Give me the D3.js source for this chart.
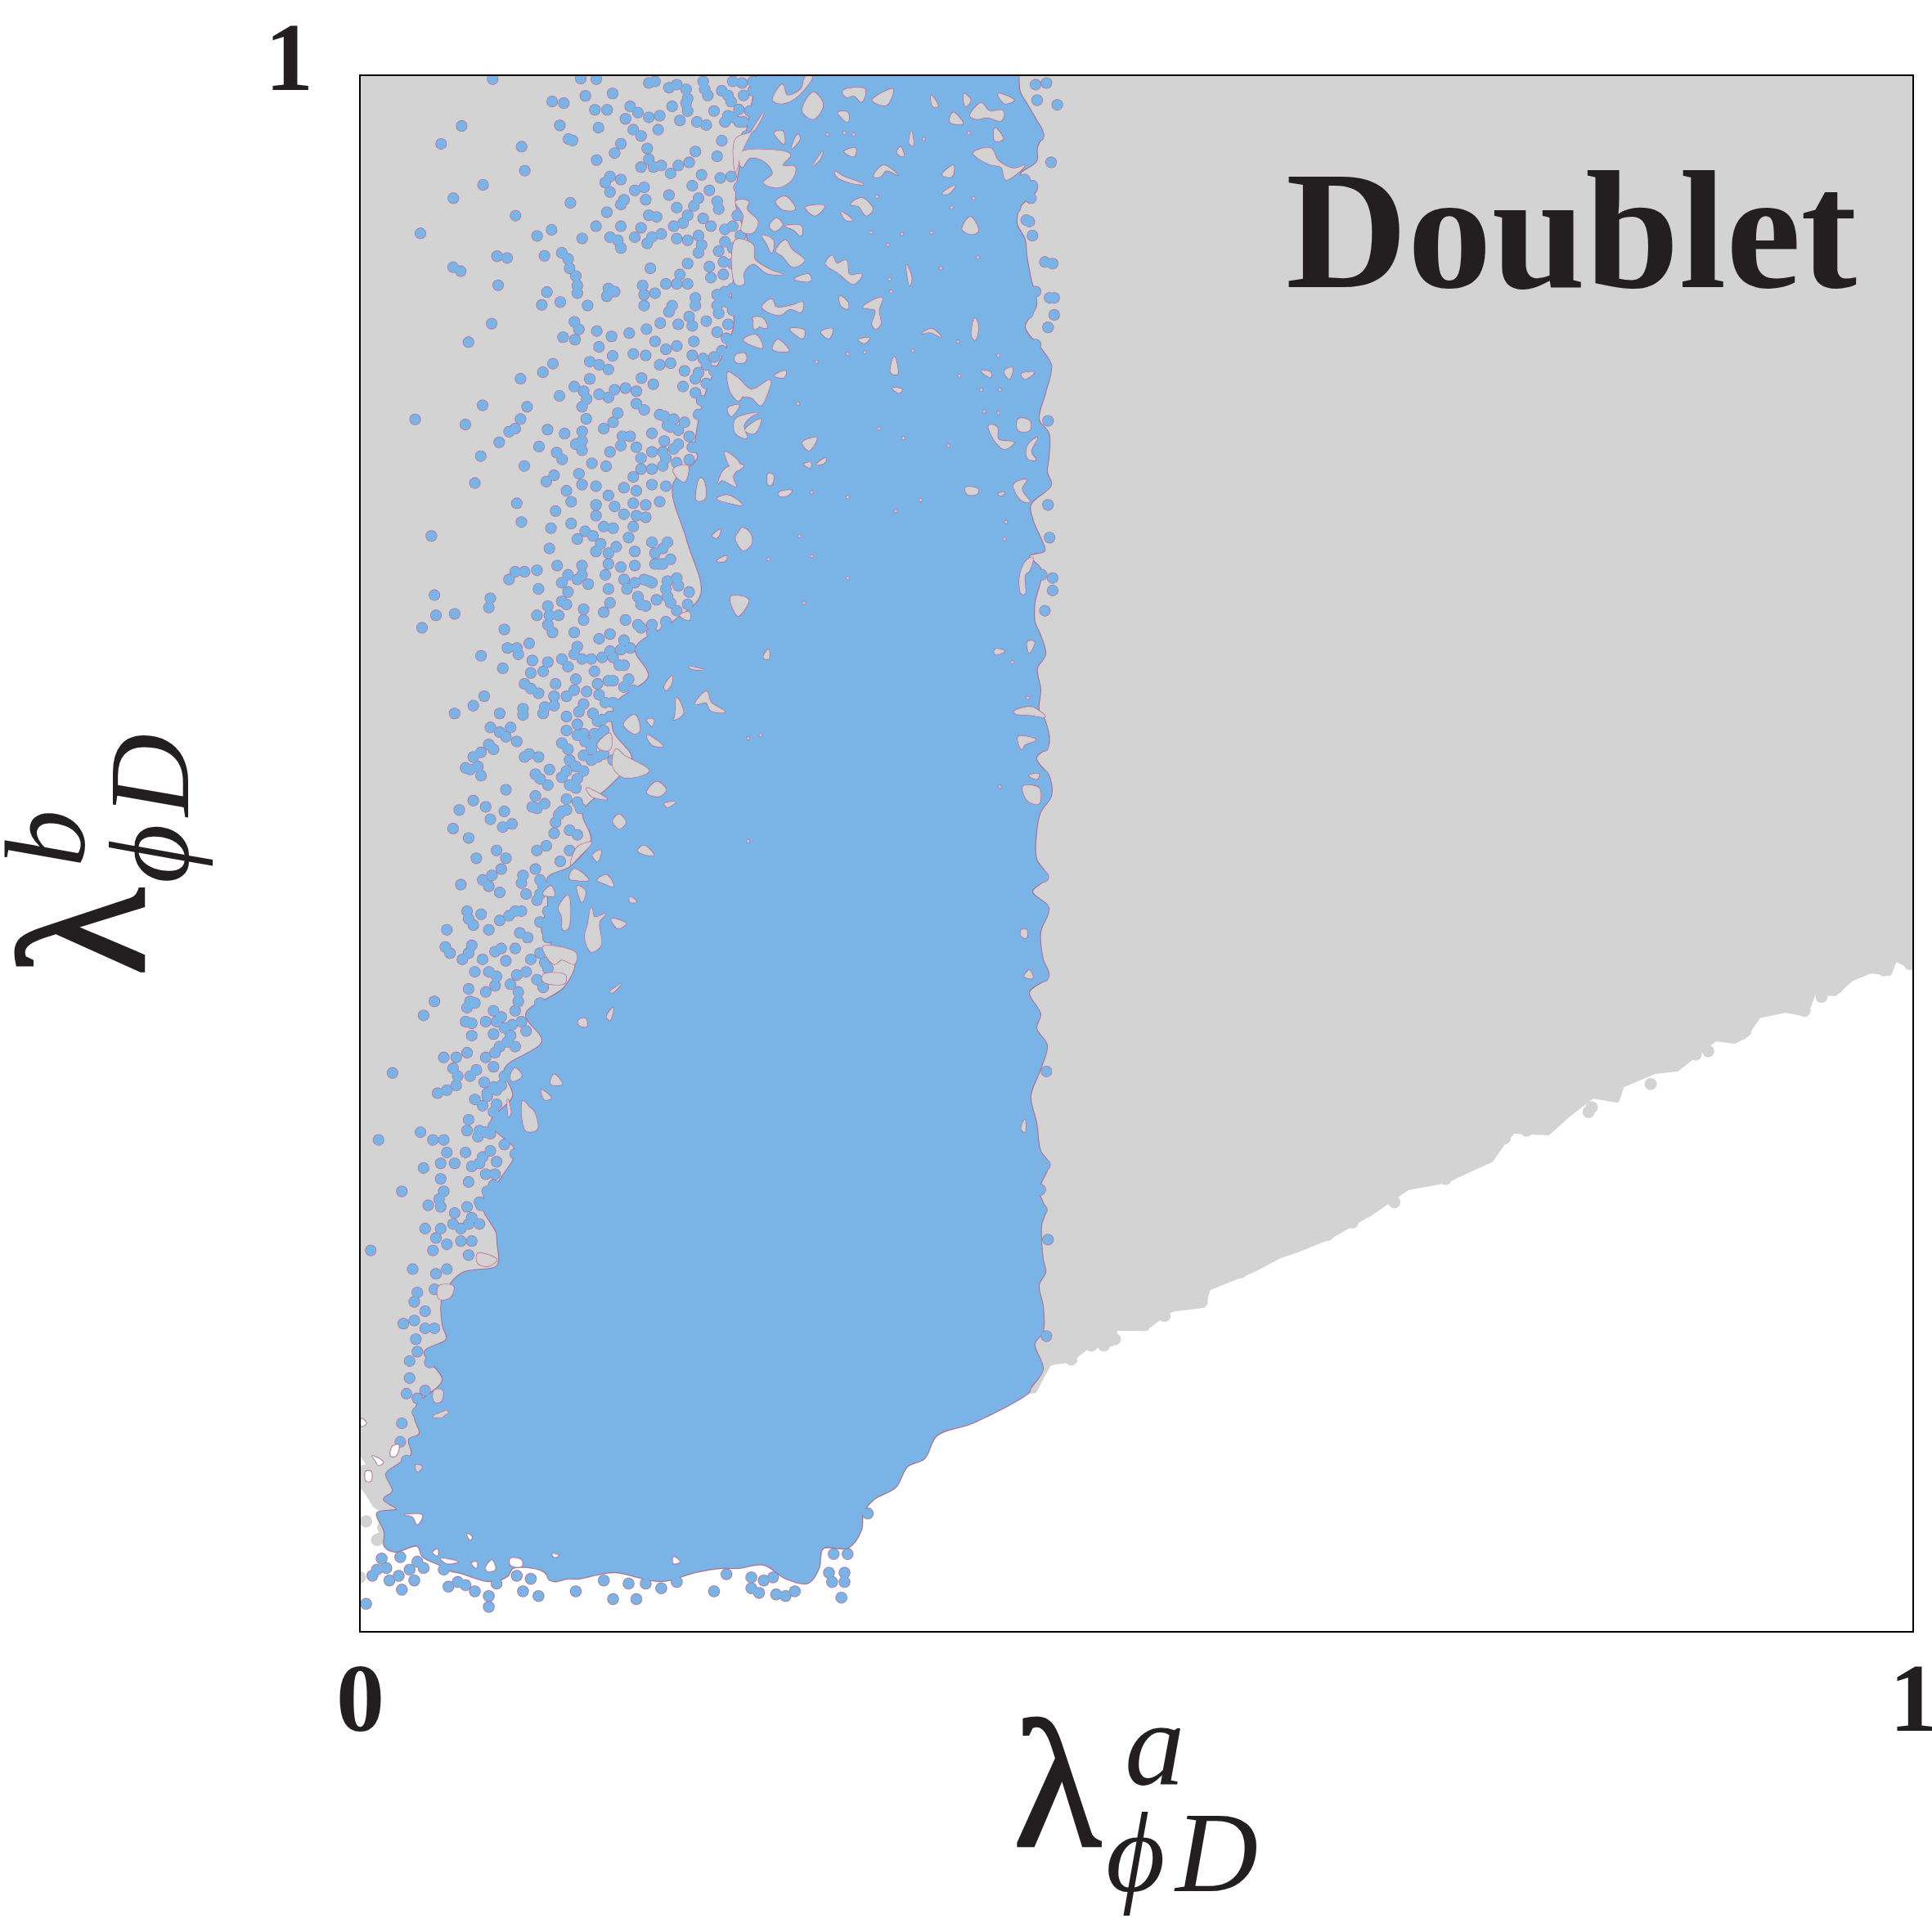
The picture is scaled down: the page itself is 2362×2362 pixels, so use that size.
<!DOCTYPE html>
<html>
<head>
<meta charset="utf-8">
<style>
  body { margin: 0; background: #fff; }
  svg text { font-family: "Liberation Serif", serif; fill: #231f20; }
  .tick text { font-weight: bold; font-size: 118px; }
</style>
</head>
<body>
<script src="https://d3js.org/d3.v7.min.js"></script>
<script>
var xTicks = [0, 1];
var yTicks = [1];
var title = "Doublet";

// outline of the solid blue part of the scan
var solidOutline = [[.2554,1],[.2501,.9695],[.2449,.9433],[.2422,.917],[.2501,.8907],[.2396,.8644],[.2407,.8382],[.2228,.7961],[.2159,.7609],[.2175,.7541],[.2017,.7368],[.2106,.7015],[.2196,.6663],[.2017,.649],[.1775,.6317],[.1859,.6138],[.1648,.5965],[.1632,.5791],[.1754,.5612],[.1617,.5439],[.1438,.5266],[.149,.5087],[.1353,.4914],[.1211,.4845],[.1211,.4666],[.1174,.4493],[.1385,.432],[.1317,.4141],[.1069,.3968],[.1174,.3794],[.0932,.3615],[.0985,.3442],[.0843,.3269],[.1001,.309],[.0911,.2917],[.079,.2743],[.0879,.2564],[.0885,.2496],[.0885,.2354],[.0653,.2302],[.0532,.2144],[.0532,.1971],[.0558,.1881],[.0416,.1797],[.0532,.1619],[.0369,.1461],[.0353,.1377],[.0384,.1272],[.0316,.1235],[.0332,.114],[.0248,.1077],[.0169,.1014],[.0211,.0904],[.0153,.0851],[.0237,.0788],[.0111,.0762],[.0158,.0641],[.0158,.0552],[.0226,.0515],[.0369,.0552],[.0405,.0483],[.0511,.0431],[.0579,.0394],[.0648,.0378],[.0827,.0326],[.0948,.0357],[.0985,.041],[.1174,.0394],[.1248,.0326],[.1332,.0342],[.1406,.0342],[.1527,.0368],[.1638,.0384],[.1943,.0326],[.2159,.0384],[.2322,.041],[.2438,.041],[.2601,.0431],[.2744,.0342],[.2886,.0315],[.2954,.041],[.2981,.0536],[.3144,.0541],[.3228,.0657],[.3239,.0762],[.3307,.0851],[.3449,.093],[.3523,.1062],[.3634,.1114],[.3713,.1261],[.395,.1345],[.4308,.154],[.4318,.1566],[.4397,.1687],[.4344,.185],[.4397,.1929],[.4397,.2091],[.4371,.2228],[.4413,.2312],[.4397,.2391],[.4387,.2512],[.4387,.2617],[.4413,.2706],[.4371,.2838],[.4434,.3006],[.4381,.309],[.4355,.3269],[.4318,.3442],[.4381,.3615],[.4423,.3768],[.4355,.3878],[.4381,.3968],[.4308,.4109],[.4434,.4215],[.4397,.432],[.4381,.4493],[.4434,.4651],[.4329,.4756],[.4423,.485],[.4355,.4966],[.4355,.5139],[.4381,.5266],[.445,.5371],[.4439,.5491],[.4355,.5612],[.4434,.5702],[.4408,.5859],[.4371,.5922],[.4381,.6054],[.436,.619],[.4413,.628],[.4381,.6401],[.4344,.649],[.4344,.6611],[.4387,.6821],[.4308,.6911],[.4408,.6947],[.4387,.7015],[.4334,.7136],[.4318,.7241],[.445,.7368],[.4423,.7452],[.4434,.7541],[.4434,.7699],[.4371,.7788],[.4413,.7961],[.445,.8135],[.4387,.824],[.4281,.8382],[.4355,.8524],[.4318,.8697],[.4292,.8839],[.4281,.8944],[.4229,.9049],[.425,.9154],[.436,.9275],[.425,.9365],[.4355,.9448],[.436,.9538],[.4397,.9627],[.4355,.9711],[.4281,.9837],[.425,.989],[.4197,1.01],[.2554,1.01]];

// outline of the grey points, frame corners included
var greyOutline = [[0,1],[1,1],[1,.4267],[.9884,.4325],[.9847,.423],[.9726,.4246],[.96,.4193],[.9495,.4099],[.9358,.4109],[.931,.3968],[.9179,.3994],[.9005,.3957],[.8915,.3826],[.8847,.3794],[.8726,.381],[.8478,.3615],[.8336,.36],[.8125,.351],[.8094,.3416],[.7936,.3442],[.7778,.3321],[.7651,.3206],[.7425,.3216],[.7367,.3153],[.7283,.3032],[.6988,.2896],[.6746,.2853],[.6509,.2691],[.6372,.2612],[.6235,.2533],[.6024,.2449],[.5914,.2412],[.5756,.2328],[.5671,.2291],[.5461,.2207],[.5429,.2097],[.5219,.207],[.5055,.195],[.4866,.195],[.4839,.185],[.4681,.1829],[.4571,.1745],[.4439,.1729],[.4344,.155],[.0263,.0762],[.0158,.0772],[.0095,.0815],[.0037,.0909],[0,.0946],[0,.1051],[.0063,.1067],[.0037,.1104],[0,.117]];

var greyX = [.751,.793,.791,.831,.86,.868,.892,.885,.93,.941,.951,.981,.998,.518,.486,.505,.522,.542,.449,.457,.479,.471,.445,.452,.458,.567,.574,.602,.591,.623,.639,.648,.666,.699,.71,.72,.737,.764,.004,.011,.013,0,.015];
var greyY = [.322,.337,.334,.352,.371,.373,.386,.382,.399,.408,.414,.425,.429,.203,.188,.197,.209,.212,.187,.185,.184,.184,.175,.179,.175,.231,.235,.248,.245,.255,.263,.27,.276,.291,.298,.303,.317,.324,.071,.059,.06,.035,.067];

var bluePoints = [
[.0855,.9975],[.1422,.9979],[.1522,.9975],[.1238,.9832],[.1313,.9821],[.1452,.9867],[.1627,.9883],[.1513,.9778],[.1592,.9778],[.0655,.9674],[.1287,.9678],[.1536,.9664],[.0523,.9559],[.1343,.959],[.1369,.9581],[.1041,.9541],[.1524,.9455],[.1062,.9387],[.0793,.9296],[.0602,.921],[.1355,.918],[.1002,.9098],[.039,.8984],[.1234,.9007],[.1141,.8968],[.1431,.8952],[.0883,.8837],[.0948,.8826],[.1188,.884],[.06,.8767],[.0649,.8741],[.089,.8651],[.1204,.8607],[.1171,.8525],[.129,.8543],[.1466,.8521],[.0848,.8404],[.0699,.8285],[.1381,.8416],[.141,.8367],[.1308,.8317],[.1385,.8301],[.1525,.8357],[.162,.8322],[.1734,.8343],[.1845,.8369],[.1934,.8408],[.1539,.8255],[.1627,.8197],[.1243,.8147],[.1178,.8092],[.1034,.805],[.148,.8049],[.1813,.8054],[.1889,.8015],[.1285,.794],[.079,.788],[.1076,.787],[.0356,.7789],[.0679,.7756],[.1034,.7791],[.1457,.7793],[.1208,.7723],[.1318,.7698],[.1431,.7712],[.0897,.7642],[.1153,.7614],[.0778,.7553],[.1058,.749],[.1494,.7507],[.1585,.7488],[.1302,.7532],[.1267,.7576],
[.186,.995],[.19,.996],[.199,.992],[.204,.994],[.21,.991],[.211,.985],[.21,.982],[.201,.98],[.211,.977],[.206,.971],[.217,.97],[.223,.968],[.221,.996],[.222,.991],[.224,.987],[.233,.99],[.237,.987],[.239,.983],[.24,.996],[.246,.995],[.253,.996],[.253,.99],[.174,.98],[.179,.976],[.186,.973],[.193,.974],[.192,.965],[.171,.972],[.176,.965],[.181,.961],[.233,.958],[.23,.948],[.216,.951],[.168,.956],[.164,.95],[.185,.953],[.186,.946],[.181,.941],[.189,.941],[.194,.942],[.2,.937],[.205,.942],[.212,.944],[.161,.935],[.168,.933],[.161,.925],[.158,.931],[.177,.926],[.183,.928],[.184,.92],[.199,.923],[.204,.915],[.17,.92],[.168,.917],[.159,.912],[.152,.903],[.168,.903],[.181,.902],[.186,.91],[.191,.909],[.211,.91],[.161,.896],[.166,.894],[.168,.889],[.177,.896],[.185,.892],[.188,.896],[.194,.898],[.202,.903],[.208,.905],[.204,.895],[.211,.894],[.218,.897],[.22,.891],[.218,.886],[.13,.886],[.134,.882],[.135,.876],[.139,.871],[.14,.865],[.14,.86],[.187,.876],[.211,.879],[.206,.872],[.211,.866],[.204,.866],[.197,.866],[.19,.86],[.182,.865],[.183,.859],[.183,.852],[.16,.863],[.164,.861],[.159,.858],[.201,.852],[.199,.848],[.225,.877],[.226,.87],[.214,.929],[.218,.921],[.215,.916],[.22,.936],[.225,.926],[.23,.919],[.231,.914],[.232,.934],[.239,.935],[.244,.928],[.247,.921],[.221,.908],[.226,.903],[.235,.901],[.243,.91],[.231,.887],[.235,.893],[.234,.88],[.24,.879],[.234,.872],[.25,.886],[.251,.877],[.253,.936],[.254,.924],[.253,.913],[.254,.954],[.247,.951],[.247,.97],[.228,.977],[.237,.974],[.244,.978],[.251,.977],[.256,.959],
[.216,.857],[.216,.852],[.212,.845],[.205,.84],[.214,.839],[.223,.842],[.231,.847],[.232,.854],[.23,.835],[.236,.831],[.239,.828],[.19,.829],[.197,.824],[.204,.826],[.176,.821],[.184,.82],[.193,.814],[.2,.815],[.215,.829],[.214,.82],[.221,.818],[.209,.81],[.218,.809],[.228,.81],[.238,.816],[.208,.8],[.23,.799],[.148,.816],[.154,.814],[.16,.811],[.138,.8],[.144,.797],[.146,.792],[.143,.787],[.154,.795],[.16,.793],[.164,.798],[.171,.799],[.178,.797],[.178,.789],[.183,.785],[.196,.781],[.193,.782],[.2,.774],[.166,.783],[.163,.777],[.157,.773],[.169,.768],[.168,.762],[.161,.758],[.096,.771],[.1,.773],[.139,.763],[.143,.765],[.143,.759],[.174,.768],[.178,.761],[.181,.754],[.188,.77],[.196,.765],[.188,.758],[.195,.758],[.209,.777],[.212,.768],[.218,.782],[.22,.791],[.223,.773],[.205,.763],[.216,.761],[.212,.753],[.221,.754],[.232,.765],[.24,.781],[.237,.772],[.23,.781],[.23,.852],[.235,.857],
[.074,.738],[.12,.739],[.125,.743],[.141,.744],[.143,.737],[.152,.736],[.133,.733],[.17,.735],[.176,.742],[.178,.733],[.188,.737],[.197,.736],[.101,.725],[.136,.726],[.126,.72],[.152,.724],[.152,.717],[.16,.73],[.164,.723],[.17,.718],[.176,.725],[.184,.724],[.193,.726],[.178,.717],[.184,.716],[.176,.71],[.173,.703],[.104,.713],[.136,.712],[.123,.709],[.046,.704],[.14,.702],[.145,.707],[.15,.704],[.157,.71],[.163,.709],[.122,.696],[.155,.699],[.152,.694],[.165,.697],[.16,.693],[.16,.686],[.158,.679],[.177,.694],[.177,.685],[.168,.684],[.188,.7],[.19,.693],[.193,.686],[.195,.696],[.2,.689],[.195,.686],[.19,.686],[.198,.7],[.127,.685],[.143,.685],[.114,.682],[.106,.681],[.1,.681],[.096,.676],[.134,.679],[.14,.676],[.143,.679],[.147,.673],[.13,.674],[.134,.668],[.115,.67],[.16,.67],[.17,.676],[.172,.67],[.179,.665],[.183,.676],[.188,.674],[.184,.659],[.198,.675],[.204,.677],[.198,.665],[.212,.668],[.048,.666],[.084,.664],[.083,.658],[.13,.662],[.133,.66],[.128,.653],[.121,.659],[.122,.653],[.121,.647],[.124,.642],[.144,.657],[.144,.65],[.161,.661],[.157,.655],[.114,.653],[.049,.653],[.061,.654],[.171,.65],[.181,.645],[.188,.647],[.197,.649],[.04,.645],[.093,.644],[.138,.642],[.14,.633],[.138,.628],[.109,.635],[.095,.632],[.101,.632],[.102,.628],[.154,.638],[.161,.641],[.17,.637],[.078,.627],[.161,.63],[.168,.631],[.156,.626],[.149,.625],[.143,.625],[.111,.624],[.121,.623],[.118,.617],[.13,.625],[.134,.62],[.092,.619],[.11,.616],[.17,.621],[.173,.612],[.151,.617],[.153,.609],[.16,.611],[.163,.611],[.139,.612],[.138,.605],[.146,.604],[.126,.609],[.106,.609],[.11,.606],[.115,.603],[.08,.601],[.073,.595],[.133,.601],[.125,.601],[.125,.595],[.119,.594],[.118,.59],[.154,.602],[.158,.597],[.061,.59],[.09,.59],[.105,.593],[.105,.589],[.144,.596],[.141,.591],[.15,.59],[.153,.585],[.133,.588],[.133,.579],[.13,.571],[.134,.567],[.14,.583],[.144,.577],[.151,.577],[.155,.576],[.145,.572],[.14,.576],[.084,.581],[.09,.578],[.094,.575],[.097,.581],[.101,.572],[.083,.57],[.086,.567],[.078,.565],[.073,.562],[.076,.556],[.068,.555],[.071,.554],[.078,.55],[.106,.562],[.109,.564],[.115,.562],[.149,.567],[.144,.563],[.157,.564],[.163,.56],[.122,.554],[.135,.56],[.133,.553],[.13,.549],[.135,.544],[.139,.542],[.113,.551],[.116,.548],[.121,.544],[.094,.541],[.14,.533],[.142,.529],[.113,.537],[.111,.53],[.114,.529],[.119,.532],[.073,.534],[.081,.53],[.064,.528],[.093,.527],[.128,.525],[.126,.52],[.125,.513],[.084,.522],[.098,.519],[.092,.517],[.06,.516],[.07,.51],[.135,.515],[.14,.512],[.135,.502],[.114,.502],[.12,.505],[.088,.502],[.094,.497],[.075,.497],[.129,.495],
[.065,.48],[.079,.483],[.085,.486],[.091,.49],[.083,.479],[.09,.475],[.105,.486],[.104,.481],[.113,.49],[.107,.474],[.116,.483],[.116,.474],[.1,.463],[.096,.46],[.09,.457],[.104,.463],[.069,.463],[.07,.458],[.073,.454],[.078,.461],[.083,.451],[.116,.456],[.103,.449],[.108,.446],[.123,.463],[.128,.456],[.121,.446],[.126,.441],[.056,.451],[.055,.44],[.058,.436],[.072,.441],[.07,.436],[.066,.432],[.087,.437],[.091,.439],[.1,.439],[.079,.432],[.094,.431],[.11,.432],[.116,.436],[.119,.43],[.121,.426],[.074,.424],[.083,.424],[.088,.421],[.087,.415],[.081,.411],[.07,.413],[.071,.405],[.074,.404],[.069,.401],[.101,.422],[.107,.424],[.114,.419],[.097,.416],[.102,.411],[.102,.405],[.1,.399],[.118,.414],[.116,.404],[.048,.405],[.041,.396],[.068,.392],[.072,.391],[.086,.399],[.091,.395],[.081,.392],[.088,.392],[.086,.384],[.097,.383],[.072,.383],[.09,.376],[.087,.372],[.1,.376],[.054,.369],[.062,.369],[.069,.372],[.081,.369],[.086,.363],[.06,.362],[.063,.357],[.062,.351],[.071,.357],[.075,.361],[.08,.353],[.021,.359],[.05,.346],[.056,.348],[.074,.342],[.079,.338],[.082,.344],[.088,.348],[.088,.339],[.07,.329],[.069,.322],[.077,.322],[.076,.318],[.039,.321],[.012,.316],[.047,.316],[.054,.316],[.056,.308],[.068,.308],[.052,.301],[.061,.301],[.041,.298],[.072,.299],[.077,.301],[.084,.309],[.081,.294],[.087,.294],[.052,.291],[.07,.289],[.082,.283],[.027,.283],[.054,.283],[.051,.278],[.044,.274],[.052,.273],[.069,.273],[.072,.266],[.078,.274],[.061,.269],[.06,.262],[.052,.259],[.049,.253],[.042,.259],[.065,.259],[.07,.262],[.056,.249],[.065,.251],[.072,.251],[.047,.245],[.007,.245],[.07,.242],
[.034,.233],[.049,.23],[.056,.233],[.048,.22],[.037,.218],[.035,.212],[.042,.206],[.028,.198],[.035,.2],[.042,.195],[.048,.195],[.036,.188],[.032,.174],[.037,.18],[.045,.173],[.032,.163],[.03,.153],[.037,.15],[.042,.155],[.037,.141],[.027,.134],[.026,.122],[.03,.11],
[.014,.047],[.026,.048],[.008,.036],[.011,.04],[.017,.041],[.019,.033],[.025,.036],[.035,.033],[.032,.04],[.037,.045],[.041,.041],[.027,.027],[.004,.018],[.057,.029],[.063,.032],[.068,.03],[.074,.026],[.083,.023],[.083,.016],[.088,.031],[.101,.036],[.11,.034],[.105,.026],[.115,.023],[.139,.026],[.054,.04],[.124,.036],[.13,.038],
[.157,.033],[.173,.031],[.184,.031],[.194,.028],[.204,.032],[.163,.021],[.178,.021],[.228,.026],[.236,.037],[.252,.035],[.252,.028],[.257,.025],[.26,.033],[.266,.035],[.268,.024],[.274,.023],[.28,.026],[.286,.035],[.302,.038],[.312,.038],[.304,.032],[.312,.032],[.31,.022],[.314,.05],[.305,.05],[.327,.076],
[.435,.994],[.442,.995],[.436,.984],[.449,.981],[.435,.963],[.437,.961],[.445,.944],[.428,.933],[.433,.929],[.432,.921],[.422,.915],[.429,.907],[.431,.906],[.433,.897],[.441,.88],[.446,.879],[.427,.875],[.435,.861],[.444,.857],[.447,.857],[.447,.846],[.443,.838],[.43,.847],[.435,.827],[.442,.813],[.438,.797],[.443,.778],[.434,.78],[.439,.765],
[.443,.724],[.444,.703],[.441,.656],[.446,.677],[.446,.669],[.434,.681],[.439,.679],[.44,.55],[.44,.545],[.441,.537],[.44,.569],[.44,.737],
[.44,.485],[.44,.465],[.44,.421],[.439,.376],[.442,.36],[.438,.284],[.439,.271],[.443,.252],[.441,.3],[.442,.19]
];

// points packed along the inner side of the fringe
var bluePointsDense = [
[.177,.674],[.181,.66],[.186,.675],[.191,.663],[.197,.67],[.2,.661],[.205,.672],[.204,.656],[.211,.66],[.179,.647],[.188,.642],[.197,.644],[.174,.632],[.17,.607],[.167,.621],[.163,.626],[.176,.605],[.17,.597],[.163,.597],[.161,.588],[.156,.586],[.157,.579],[.151,.572],[.149,.56],[.139,.556],[.144,.553],[.153,.562],[.14,.548],[.133,.535],[.133,.528],[.13,.527],
[.118,.479],[.114,.47],[.121,.463],[.12,.455],[.121,.451],[.13,.444],[.135,.442],[.118,.402],[.111,.395],[.104,.392],[.107,.386],[.098,.39],[.093,.388],[.095,.379],[.093,.357],[.086,.35],[.091,.351],[.082,.346],[.086,.334],[.086,.325],[.084,.32],[.081,.321],[.093,.313],[.1,.307],[.079,.305],[.088,.302],[.086,.287],[.083,.28],[.077,.276],[.077,.262],
[.237,.854],[.24,.849],[.237,.84],[.242,.831],[.233,.823],[.244,.823],[.228,.819],[.235,.81],[.223,.814],[.216,.805],[.223,.802],[.216,.796],[.219,.782],[.202,.779],[.198,.775],[.205,.772],[.214,.761],[.202,.76],[.197,.754],[.204,.751],[.195,.749],[.188,.747],[.181,.747],[.219,.747],[.226,.761],[.226,.772],[.231,.751],[.223,.782],
[.247,.987],[.244,.97],[.24,.973],[.235,.97],[.249,.961],[.253,.954],[.249,.948],[.254,.943],[.252,.928],[.247,.91],[.24,.903],[.245,.897],[.253,.894],[.24,.889],[.247,.87],[.253,.866],[.24,.863],[.235,.861],[.23,.859]
];

// grey showing through the blue cloud
var greyGaps = [
[[.266,.984],[.272,.994],[.275,.987],[.284,.991],[.287,.999],[.291,.999],[.286,.991],[.278,.984],[.271,.982]],
[[.285,.977],[.292,.989],[.298,.981],[.292,.972]],
[[.311,.99],[.325,.991],[.323,.983],[.318,.987],[.313,.986]],
[[.33,.984],[.343,.991],[.339,.981]],
[[.308,.976],[.314,.976],[.314,.97]],
[[.368,.987],[.372,.98],[.369,.98]],
[[.393,.974],[.4,.982],[.405,.977],[.414,.977],[.413,.971],[.404,.973],[.397,.972]],
[[.411,.988],[.421,.984],[.415,.982]],
[[.38,.97],[.382,.976],[.388,.969]],
[[.389,.988],[.393,.984],[.39,.98]],
[[.409,.966],[.414,.959],[.409,.958]],
[[.354,.956],[.355,.964],[.356,.955]],
[[.346,.95],[.348,.954],[.35,.948]],
[[.312,.951],[.319,.953],[.318,.948]],
[[.292,.942],[.298,.951],[.296,.946]],
[[.267,.963],[.272,.964],[.273,.956]],
[[.278,.953],[.282,.962],[.283,.959]],
[[.242,.959],[.253,.964],[.26,.976],[.254,.967],[.245,.949],[.242,.938]],
[[.245,.95],[.263,.952],[.277,.949],[.272,.942],[.28,.941],[.278,.933],[.269,.928],[.26,.931],[.266,.937],[.26,.945],[.251,.947],[.246,.941]],
[[.306,.938],[.311,.935],[.324,.93],[.316,.931],[.307,.935]],
[[.331,.935],[.337,.942],[.346,.936],[.339,.939],[.335,.935]],
[[.375,.936],[.382,.942],[.381,.935]],
[[.375,.924],[.383,.929],[.379,.924]],
[[.395,.95],[.406,.953],[.411,.945],[.421,.94],[.428,.942],[.416,.933],[.413,.941],[.405,.943]],
[[.316,.917],[.323,.921],[.33,.914],[.326,.91],[.321,.916]],
[[.31,.912],[.317,.907],[.313,.907]],
[[.287,.915],[.299,.916],[.293,.91]],
[[.264,.903],[.268,.908],[.272,.904],[.267,.9]],
[[.274,.903],[.284,.903],[.284,.897],[.279,.901]],
[[.242,.919],[.25,.919],[.249,.914],[.256,.906],[.253,.899],[.246,.9],[.247,.91]],
[[.268,.919],[.274,.922],[.28,.914],[.272,.914]],
[[.388,.901],[.393,.909],[.398,.9],[.394,.898]],
[[.259,.897],[.266,.894],[.265,.886],[.262,.892]],
[[.268,.887],[.274,.894],[.278,.888],[.286,.881],[.279,.877],[.272,.884]],
[[.242,.894],[.253,.891],[.254,.882],[.264,.875],[.272,.872],[.262,.873],[.253,.879],[.247,.873],[.247,.866],[.242,.866]],
[[.3,.879],[.304,.884],[.307,.879],[.313,.881],[.315,.872],[.323,.872],[.318,.866],[.308,.873]],
[[.28,.869],[.289,.872],[.29,.868]],
[[.352,.878],[.355,.87],[.354,.865]],
[[.309,.858],[.314,.854],[.314,.85],[.31,.852]],
[[.324,.851],[.336,.857],[.334,.849],[.335,.84],[.332,.837],[.33,.84],[.332,.849]],
[[.259,.851],[.265,.856],[.268,.851],[.278,.852],[.285,.854],[.284,.848],[.277,.85],[.27,.846]],
[[.253,.844],[.259,.844],[.262,.838],[.257,.839]],
[[.277,.837],[.286,.836],[.285,.831]],
[[.297,.835],[.304,.837],[.302,.831]],
[[.266,.824],[.269,.83],[.276,.823]],
[[.247,.83],[.255,.833],[.259,.825]],
[[.362,.834],[.368,.837],[.374,.832],[.367,.835]],
[[.394,.833],[.396,.844],[.398,.838],[.396,.83]],
[[.321,.83],[.328,.831],[.325,.828]],
[[.342,.809],[.344,.819],[.346,.808]],
[[.242,.82],[.248,.821],[.248,.816],[.242,.816]],
[[.242,.806],[.252,.798],[.264,.804],[.262,.795],[.258,.788],[.252,.793],[.242,.795]],
[[.4,.81],[.406,.809],[.406,.806]],
[[.415,.81],[.42,.812],[.418,.805]],
[[.426,.808],[.434,.809],[.428,.805]],
[[.343,.799],[.349,.798],[.347,.796]],
[[.267,.807],[.274,.81],[.273,.806]],
[[.242,.779],[.256,.783],[.252,.781],[.247,.775],[.249,.767],[.242,.77]],
[[.285,.764],[.294,.767],[.289,.759]],
[[.405,.775],[.41,.774],[.411,.766],[.421,.764],[.415,.76],[.409,.765]],
[[.43,.762],[.436,.767],[.432,.758],[.435,.753],[.43,.754]],
[[.424,.779],[.431,.778],[.431,.772],[.424,.772]],
[[.237,.809],[.247,.8],[.244,.791],[.239,.796]],
[[.237,.786],[.244,.788],[.239,.781]],
[[.248,.772],[.258,.779],[.254,.77]],
[[.235,.758],[.244,.751],[.24,.747]],
[[.254,.844],[.258,.84],[.254,.837]],
[[.202,.747],[.211,.749],[.209,.739],[.204,.742]],
[[.217,.727],[.219,.741],[.221,.74],[.222,.728]],
[[.231,.738],[.235,.747],[.244,.749],[.24,.742],[.242,.736],[.233,.74]],
[[.23,.728],[.237,.73],[.246,.724],[.239,.725]],
[[.242,.703],[.247,.708],[.252,.703],[.247,.695]],
[[.227,.704],[.232,.708],[.23,.703]],
[[.23,.688],[.236,.691],[.235,.688]],
[[.239,.665],[.249,.663],[.244,.653],[.241,.656]],
[[.206,.653],[.212,.655],[.212,.65]],
[[.212,.62],[.221,.618],[.213,.619]],
[[.196,.607],[.201,.614],[.2,.608],[.197,.605]],
[[.203,.588],[.204,.6],[.208,.59],[.202,.586]],
[[.216,.596],[.223,.604],[.226,.597],[.235,.591],[.226,.592],[.223,.597]],
[[.17,.583],[.177,.589],[.18,.579],[.177,.577]],
[[.185,.586],[.189,.586],[.188,.582]],
[[.185,.576],[.195,.569],[.188,.57]],
[[.153,.57],[.161,.577],[.161,.567],[.155,.567]],
[[.165,.567],[.17,.563],[.186,.553],[.17,.549],[.163,.556]],
[[.185,.539],[.191,.546],[.197,.541],[.193,.537]],
[[.146,.542],[.159,.535],[.149,.537]],
[[.163,.521],[.167,.525],[.171,.52],[.167,.516]],
[[.196,.532],[.203,.533],[.198,.53]],
[[.179,.502],[.183,.505],[.189,.499],[.182,.5]],
[[.15,.499],[.155,.502],[.153,.495]],
[[.14,.504],[.149,.507],[.14,.497],[.136,.493]],
[[.135,.484],[.138,.49],[.147,.483],[.139,.483]],
[[.153,.483],[.159,.486],[.163,.479],[.157,.481]],
[[.14,.479],[.145,.476],[.143,.469]],
[[.118,.474],[.123,.479],[.125,.473]],
[[.128,.465],[.134,.473],[.134,.452],[.131,.451],[.13,.46]],
[[.147,.455],[.149,.465],[.151,.459],[.158,.461],[.154,.456],[.155,.441],[.149,.437],[.145,.446]],
[[.118,.44],[.139,.436],[.138,.429],[.13,.432],[.125,.429]],
[[.118,.422],[.132,.422],[.132,.417],[.125,.416],[.118,.418]],
[[.161,.411],[.168,.416],[.163,.411]],
[[.159,.395],[.163,.401],[.161,.393]],
[[.141,.393],[.145,.394],[.146,.389],[.141,.39]],
[[.097,.357],[.1,.362],[.104,.357],[.098,.354]],
[[.105,.341],[.109,.337],[.112,.334],[.114,.323],[.107,.322]],
[[.095,.342],[.097,.334],[.096,.331]],
[[.117,.348],[.123,.343],[.119,.342]],
[[.125,.358],[.13,.352],[.123,.352]],
[[.174,.472],[.178,.469],[.174,.469]],
[[.162,.458],[.171,.455],[.166,.452]],
[[.076,.243],[.088,.239],[.082,.235],[.076,.237]],
[[.051,.222],[.06,.222],[.058,.215],[.051,.214]],
[[.048,.155],[.053,.155],[.052,.148],[.048,.148]],
[[.048,.139],[.057,.141],[.05,.138]],
[[.036,.107],[.04,.106],[.037,.103]],
[[.047,.138],[.056,.142],[.053,.138],[.048,.138]],
[[.242,.75],[.247,.749],[.242,.746]],
[[.263,.744],[.266,.743],[.265,.737],[.263,.737]],
[[.27,.732],[.278,.733],[.275,.73],[.27,.73]],
[[.295,.751],[.3,.754],[.299,.751],[.294,.75]],
[[.286,.75],[.29,.751],[.29,.748]],
[[.39,.735],[.398,.734],[.397,.731],[.391,.731]],
[[.411,.731],[.415,.732],[.413,.73]],
[[.421,.737],[.429,.74],[.426,.734],[.431,.726],[.426,.727]],
[[.243,.703],[.246,.709],[.251,.706],[.252,.699],[.247,.695],[.243,.7]],
[[.242,.665],[.25,.663],[.244,.653],[.242,.654]],
[[.26,.626],[.263,.631],[.263,.625]],
[[.425,.678],[.429,.688],[.433,.69],[.431,.682],[.428,.679],[.428,.667],[.426,.667]],
[[.421,.591],[.432,.594],[.441,.588],[.432,.589],[.422,.59]],
[[.424,.575],[.435,.573],[.428,.57],[.426,.567]],
[[.427,.543],[.437,.542],[.438,.535],[.437,.532],[.43,.534]],
[[.431,.55],[.437,.551],[.436,.548]],
[[.43,.636],[.434,.636],[.431,.629]],
[[.409,.631],[.415,.63],[.409,.628]],
[[.426,.451],[.429,.451],[.429,.446],[.426,.447]],
[[.428,.421],[.431,.425],[.433,.42]],
[[.426,.323],[.428,.329],[.428,.321]]
];

// white showing through at the lower left
var whiteGaps = [
[[.029,.075],[.04,.075],[.037,.069],[.034,.074]],
[[.081,.041],[.085,.046],[.087,.04],[.082,.039]],
[[.052,.047],[.063,.045],[.056,.044]],
[[.047,.051],[.05,.053],[.05,.049]],
[[.097,.047],[.104,.046],[.104,.042],[.097,.043]],
[[.072,.044],[.075,.045],[.075,.041]],
[[.069,.063],[.072,.061],[.071,.059]],
[[.124,.05],[.128,.049],[.125,.048]],
[[.202,.048],[.206,.045],[.202,.044]],
[[.021,.119],[.025,.12],[.023,.113],[.02,.113]],
[[.008,.113],[.015,.109],[.012,.107],[.01,.11]],
[[.004,.103],[.007,.103],[.007,.097],[.004,.097]],
[[.001,.137],[.004,.134],[.001,.132]]
];

// tiny pinholes in the solid part
var pinholes = [[.301,.962],[.312,.963],[.318,.962],[.363,.959],[.392,.963],[.333,.922],[.395,.921],[.381,.915],[.349,.898],[.329,.899],[.368,.899],[.34,.891],[.398,.883],[.374,.876],[.341,.869],[.342,.861],[.386,.807],[.325,.822],[.314,.821],[.294,.816],[.356,.823],[.385,.829],[.411,.82],[.4,.798],[.412,.798],[.334,.773],[.35,.767],[.379,.762],[.282,.789],[.402,.784],[.411,.783],[.345,.72],[.314,.729],[.291,.732],[.361,.727],[.283,.704],[.291,.691],[.314,.677],[.263,.689],[.416,.713],[.415,.702],[.286,.661],[.43,.6],[.42,.623],[.412,.543],[.258,.576],[.25,.574],[.25,.508]];

var width = 2362, height = 2362;
var blue = "#7ab3e6", grey = "#d3d3d3", ink = "#231f20", edge = "#a26f90", halo = "#e9c3cf";

var svg = d3.select("body").append("svg")
    .attr("width", width)
    .attr("height", height);

var x = d3.scaleLinear().domain([0, 1]).range([440, 2339]);
var y = d3.scaleLinear().domain([0, 1]).range([1995, 92]);

svg.append("clipPath").attr("id", "frame")
  .append("rect")
    .attr("x", x(0)).attr("y", y(1))
    .attr("width", x(1) - x(0)).attr("height", y(0) - y(1));

var plot = svg.append("g").attr("clip-path", "url(#frame)");

var outline = d3.line().x(function (d) { return x(d[0]); }).y(function (d) { return y(d[1]); });
var blob = d3.line().x(function (d) { return x(d[0]); }).y(function (d) { return y(d[1]); })
    .curve(d3.curveCatmullRomClosed);
function closed(d) { return outline(d) + "Z"; }

// grey scan
plot.append("path")
    .attr("d", closed(greyOutline))
    .attr("fill", grey)
    .attr("stroke", grey)
    .attr("stroke-width", 6)
    .attr("stroke-linejoin", "round");

plot.selectAll("circle.grey")
    .data(greyX)
  .enter().append("circle")
    .attr("class", "grey")
    .attr("cx", function (d) { return x(d); })
    .attr("cy", function (d, i) { return y(greyY[i]); })
    .attr("r", 7.5)
    .attr("fill", grey);

// blue scan, the rim layers go first so only the outer edge of the union shows
var allBlue = bluePoints.concat(bluePointsDense);
[[halo, 7.5, 3], [edge, 7, 2], [blue, 6.4, 0]].forEach(function (layer) {
  var g = plot.append("g");
  g.selectAll("circle")
      .data(allBlue)
    .enter().append("circle")
      .attr("cx", function (d) { return x(d[0]); })
      .attr("cy", function (d) { return y(d[1]); })
      .attr("r", layer[1])
      .attr("fill", layer[0]);
  g.append("path")
      .attr("d", blob(solidOutline))
      .attr("fill", layer[0])
      .attr("stroke", layer[0])
      .attr("stroke-width", layer[2]);
});

function drawGaps(list, fill) {
  var g = plot.append("g").attr("stroke-linejoin", "round");
  g.selectAll("path.rim")
      .data(list)
    .enter().append("path")
      .attr("class", "rim")
      .attr("d", blob)
      .attr("fill", edge)
      .attr("stroke", edge)
      .attr("stroke-width", 2.2);
  g.selectAll("path.gap")
      .data(list)
    .enter().append("path")
      .attr("class", "gap")
      .attr("d", blob)
      .attr("fill", fill)
      .attr("stroke", halo)
      .attr("stroke-width", 1);
}
drawGaps(greyGaps, grey);
drawGaps(whiteGaps, "#fff");

plot.selectAll("circle.pin")
    .data(pinholes)
  .enter().append("circle")
    .attr("class", "pin")
    .attr("cx", function (d) { return x(d[0]); })
    .attr("cy", function (d) { return y(d[1]); })
    .attr("r", 2)
    .attr("fill", halo)
    .attr("stroke", edge)
    .attr("stroke-width", 0.7);

// frame
svg.append("rect")
    .attr("x", x(0)).attr("y", y(1))
    .attr("width", x(1) - x(0)).attr("height", y(0) - y(1))
    .attr("fill", "none")
    .attr("stroke", "#000")
    .attr("stroke-width", 2);

// axes, only the tick labels show
var xAxis = svg.append("g")
    .attr("transform", "translate(0," + y(0) + ")")
    .call(d3.axisBottom(x).tickValues(xTicks).tickSize(0).tickPadding(45).tickFormat(d3.format("d")));
var yAxis = svg.append("g")
    .attr("transform", "translate(" + x(0) + ",0)")
    .call(d3.axisLeft(y).tickValues(yTicks).tickSize(0).tickPadding(57).tickFormat(d3.format("d")));
xAxis.select(".domain").remove();
yAxis.select(".domain").remove();
xAxis.selectAll("text").attr("y", 121).attr("dy", 0).style("fill", ink).style("font-family", "Liberation Serif");
yAxis.selectAll("text").attr("y", 17).attr("dy", 0).style("fill", ink).style("font-family", "Liberation Serif");

svg.append("text")
    .attr("x", 1572)
    .attr("y", 351)
    .attr("font-size", 206)
    .attr("font-weight", "bold")
    .text(title);

// axis titles are placed letter by letter
var xLabel = [
  { t: "\u03bb", x: 1239, y: 2256, size: 222, heavy: true },
  { t: "a", x: 1375, y: 2182, size: 147, italic: true },
  { t: "\u03d5", x: 1352, y: 2312, size: 140, italic: true },
  { t: "D", x: 1437, y: 2312, size: 140, italic: true }
];
var yLabel = [
  { t: "\u03bb", x: 175, y: 1193, size: 222, heavy: true },
  { t: "b", x: 103, y: 1060, size: 140, italic: true },
  { t: "\u03d5", x: 230, y: 1080, size: 140, italic: true },
  { t: "D", x: 230, y: 998, size: 140, italic: true }
];

function styleLabel(sel) {
  sel.attr("font-size", function (d) { return d.size; })
    .attr("font-style", function (d) { return d.italic ? "italic" : "normal"; })
    .attr("stroke", function (d) { return d.heavy ? ink : "none"; })
    .attr("stroke-width", function (d) { return d.heavy ? 3 : 0; })
    .text(function (d) { return d.t; });
}

svg.selectAll("text.xlabel")
    .data(xLabel)
  .enter().append("text")
    .attr("class", "xlabel")
    .attr("x", function (d) { return d.x; })
    .attr("y", function (d) { return d.y; })
    .call(styleLabel);

svg.selectAll("text.ylabel")
    .data(yLabel)
  .enter().append("text")
    .attr("class", "ylabel")
    .attr("transform", function (d) { return "translate(" + d.x + "," + d.y + ") rotate(-90)"; })
    .call(styleLabel);
</script>
</body>
</html>
